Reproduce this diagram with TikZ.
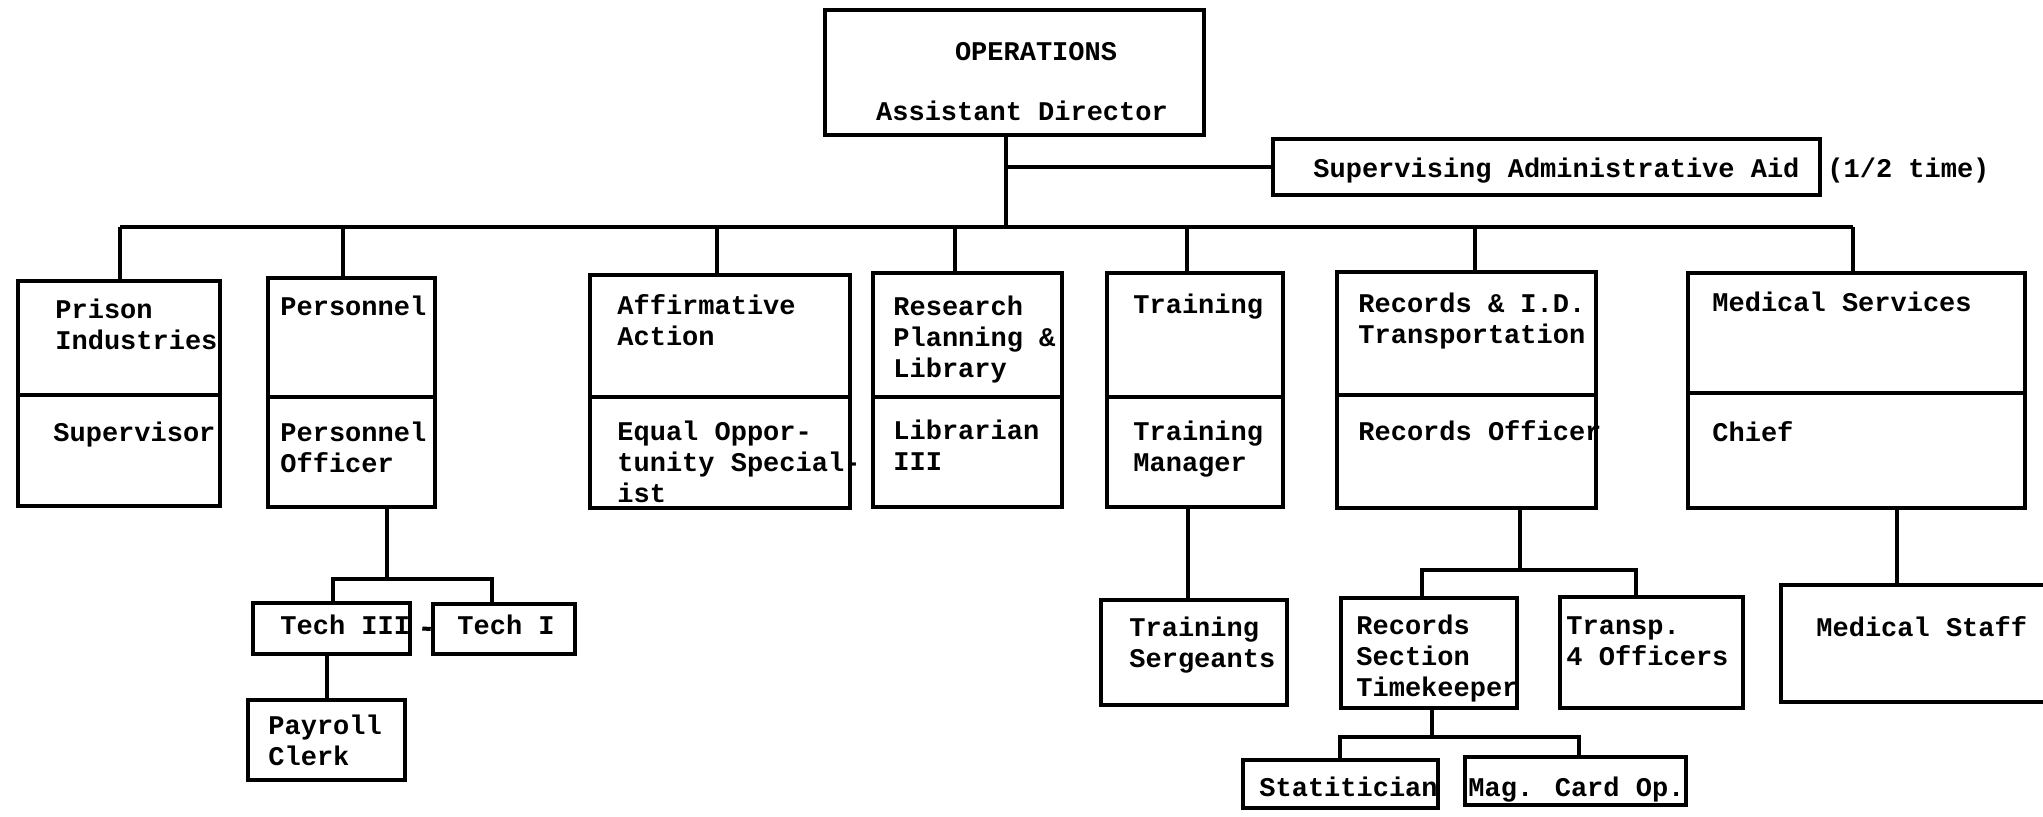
\documentclass[tikz,border=0pt]{standalone}
\usepackage{fontspec}
\newfontfamily\tw{Liberation Mono}
\usetikzlibrary{fit}
\newcommand\ml[1]{\begin{tabular}[t]{@{}l@{}}#1\end{tabular}}
\begin{document}
\begin{tikzpicture}[x=0.5pt,y=-0.5pt,
  box/.style={draw, line width=2.3pt, inner sep=0pt},
  div/.style={line width=2.3pt},
  conn/.style={line width=2pt},
  lbl/.style={anchor=base west, inner sep=0pt, font=\tw\bfseries\fontsize{13.5}{15.5}\selectfont},
  lblc/.style={lbl, anchor=base}]
\fill[white] (0,0) rectangle (2043,817);
\clip (0,0) rectangle (2043,817);

% boxes
\node[box, fit={(825,10) (1204,135)}] (ops) {};
\node[box, fit={(1273,139) (1820,195)}] (sup) {};
\node[box, fit={(18,281) (220,506)}] (prison) {};
\node[box, fit={(268,278) (435,507)}] (pers) {};
\node[box, fit={(590,275) (850,508)}] (aff) {};
\node[box, fit={(873,273) (1062,507)}] (res) {};
\node[box, fit={(1107,273) (1283,507)}] (trn) {};
\node[box, fit={(1337,272) (1596,508)}] (rec) {};
\node[box, fit={(1688,273) (2025,508)}] (med) {};
\node[box, fit={(253,603) (410,654)}] (tech3) {};
\node[box, fit={(433,604) (575,654)}] (tech1) {};
\node[box, fit={(248,700) (405,780)}] (pay) {};
\node[box, fit={(1101,600) (1287,705)}] (sgt) {};
\node[box, fit={(1341,598) (1517,708)}] (rsec) {};
\node[box, fit={(1560,597) (1743,708)}] (transp) {};
\node[box, fit={(1781,585) (2080,702)}] (mstaff) {};
\node[box, fit={(1243,760) (1438,808)}] (stat) {};
\node[box, fit={(1465,757) (1686,805)}] (mag) {};

% dividers
\draw[div] (prison.west |- 0,395) -- (prison.east |- 0,395);
\draw[div] (pers.west |- 0,397) -- (pers.east |- 0,397);
\draw[div] (aff.west |- 0,397) -- (aff.east |- 0,397);
\draw[div] (res.west |- 0,397) -- (res.east |- 0,397);
\draw[div] (trn.west |- 0,397) -- (trn.east |- 0,397);
\draw[div] (rec.west |- 0,395) -- (rec.east |- 0,395);
\draw[div] (med.west |- 0,393) -- (med.east |- 0,393);

% connectors
\coordinate (bus) at (0,227);
\draw[conn] (1006,0 |- ops.south) -- (1006,0 |- bus);
\draw[conn] (1006,0 |- sup.west) -- (sup.west);
\draw[conn] (120,0 |- bus) -- (1853,0 |- bus);
\foreach \x/\n in {120/prison,343/pers,717/aff,955/res,1187/trn,1475/rec,1853/med}
  \draw[conn] (\x,0 |- bus) -- (\x,0 |- \n.north);

\coordinate (pb) at (0,579);
\draw[conn] (387,0 |- pers.south) -- (387,0 |- pb);
\draw[conn] (333,0 |- tech3.north) -- (333,0 |- pb) -- (492,0 |- pb) -- (492,0 |- tech1.north);
\draw[conn] ([xshift=5pt]tech3.east) -- (tech1.west);
\draw[conn] (327,0 |- tech3.south) -- (327,0 |- pay.north);

\draw[conn] (1188,0 |- trn.south) -- (1188,0 |- sgt.north);

\coordinate (rb) at (0,570);
\draw[conn] (1520,0 |- rec.south) -- (1520,0 |- rb);
\draw[conn] (1422,0 |- rsec.north) -- (1422,0 |- rb) -- (1636,0 |- rb) -- (1636,0 |- transp.north);

\coordinate (sb) at (0,737);
\draw[conn] (1432,0 |- rsec.south) -- (1432,0 |- sb);
\draw[conn] (1340,0 |- stat.north) -- (1340,0 |- sb) -- (1579,0 |- sb) -- (1579,0 |- mag.north);

\draw[conn] (1897,0 |- med.south) -- (1897,0 |- mstaff.north);

% labels
\node[lblc] (t1) at (1036,61) {OPERATIONS};
\node[lblc] (t2) at (1022,121) {Assistant Director};
\node[lbl] (t3) at (1313,178) {Supervising Administrative Aid};
\node[lbl] (t4) at (1827,178) {(1/2 time)};

\node[lbl] (t5) at (55,319) {\ml{Prison\\Industries}};
\node[lbl] (t6) at (53,442) {Supervisor};
\node[lbl] (t7) at (280,316) {Personnel};
\node[lbl] (t8) at (280,442) {\ml{Personnel\\Officer}};
\node[lbl] (t9) at (617,315) {\ml{Affirmative\\Action}};
\node[lbl] (t10) at (617,441) {\ml{Equal Oppor-\\tunity Special-\\ist}};
\node[lbl] (t11) at (893,316) {\ml{Research\\Planning \&\\Library}};
\node[lbl] (t12) at (893,440) {\ml{Librarian\\III}};
\node[lbl] (t13) at (1133,314) {Training};
\node[lbl] (t14) at (1133,441) {\ml{Training\\Manager}};
\node[lbl] (t15) at (1358,313) {\ml{Records \& I.D.\\Transportation}};
\node[lbl] (t16) at (1358,441) {Records Officer};
\node[lbl] (t17) at (1712,312) {Medical Services};
\node[lbl] (t18) at (1712,442) {Chief};

\node[lbl] (t19) at (280,634) {Tech III};
\node[lbl] (t20) at (457,634) {Tech I};
\node[lbl] (t21) at (268,734) {\ml{Payroll\\Clerk}};
\node[lbl] (t22) at (1129,636) {\ml{Training\\Sergeants}};
\node[lbl] (t23) at (1356,634) {\ml{Records\\Section\\Timekeeper}};
\node[lbl] (t24) at (1566,634) {\ml{Transp.\\4 Officers}};
\node[lbl] (t25) at (1816,636) {Medical Staff};
\node[lbl] (t26) at (1259,796) {Statitician};
\node[lbl] (t27) at (1468,796) {Mag. Card Op.};
\end{tikzpicture}
\end{document}
